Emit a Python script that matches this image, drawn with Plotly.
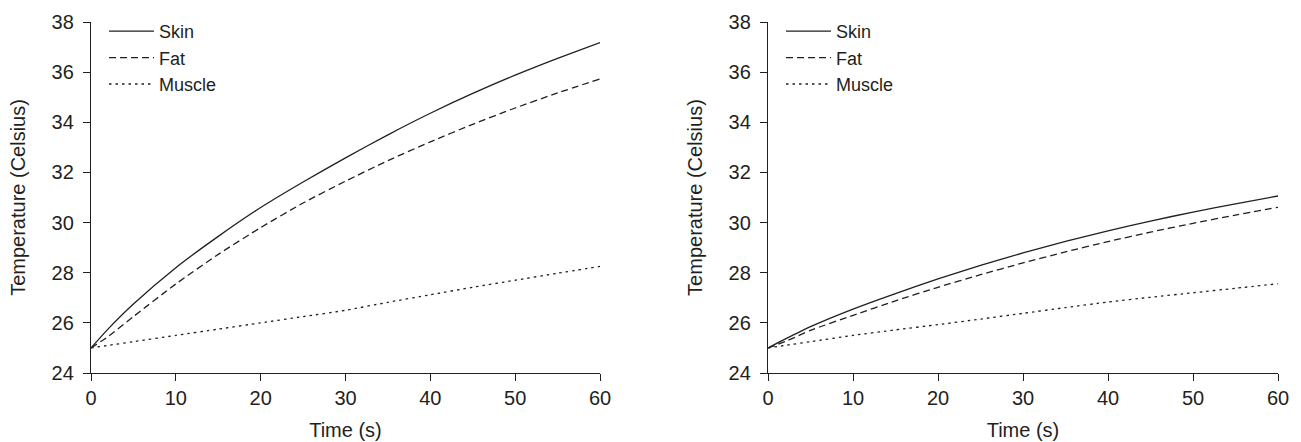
import plotly.graph_objects as go

time_s = [0, 2, 5, 10, 15, 20, 25, 30, 35, 40, 45, 50, 55, 60]
skin_left = [25.0, 25.75, 26.75, 28.2, 29.45, 30.6, 31.62, 32.58, 33.5, 34.36, 35.15, 35.88, 36.55, 37.18]
fat_left = [25.0, 25.45, 26.25, 27.55, 28.73, 29.8, 30.78, 31.65, 32.47, 33.22, 33.92, 34.57, 35.17, 35.73]
muscle_left = [25.0, 25.1, 25.25, 25.5, 25.75, 26.0, 26.25, 26.5, 26.82, 27.12, 27.42, 27.7, 27.98, 28.25]
skin_right = [25.0, 25.35, 25.85, 26.55, 27.17, 27.75, 28.29, 28.79, 29.25, 29.67, 30.06, 30.42, 30.75, 31.06]
fat_right = [25.0, 25.25, 25.7, 26.3, 26.88, 27.42, 27.92, 28.39, 28.83, 29.24, 29.62, 29.97, 30.3, 30.61]
muscle_right = [25.0, 25.1, 25.25, 25.5, 25.72, 25.93, 26.15, 26.38, 26.61, 26.83, 27.02, 27.2, 27.38, 27.56]

series_names = ["Skin", "Fat", "Muscle"]
x_ticks = [0, 10, 20, 30, 40, 50, 60]
y_ticks = [24, 26, 28, 30, 32, 34, 36, 38]

INK = "#231f20"
FONT = "Liberation Sans, Arial, sans-serif"
dashes = ["solid", "7px,4px", "2.5px,4px"]

fig = go.Figure()
panels = [
    ("x", "y", "legend", [skin_left, fat_left, muscle_left]),
    ("x2", "y2", "legend2", [skin_right, fat_right, muscle_right]),
]
for xa, ya, lg, vals in panels:
    for name, v, d in zip(series_names, vals, dashes):
        fig.add_trace(go.Scatter(
            x=time_s, y=v, name=name, mode="lines", xaxis=xa, yaxis=ya, legend=lg,
            line=dict(color=INK, width=1.3, dash=d, shape="spline", smoothing=0.6),
        ))

W, H = 1301, 442
ydom = [1 - 373 / H, 1 - 22 / H]
axis_common = dict(
    showline=True, linecolor=INK, linewidth=1.3, ticks="outside", ticklen=7,
    tickwidth=1.3, tickcolor=INK, showgrid=False, zeroline=False, automargin=False,
    tickfont=dict(family=FONT, size=20, color=INK),
    title_font=dict(family=FONT, size=20, color=INK),
)
legend_common = dict(
    xanchor="left", yanchor="top", y=1 - 13 / H,
    bgcolor="rgba(0,0,0,0)", font=dict(family=FONT, size=18, color=INK),
    itemwidth=45, tracegroupgap=0,
)
fig.update_layout(
    template="none",
    width=W, height=H, margin=dict(l=0, r=0, t=0, b=0),
    paper_bgcolor="white", plot_bgcolor="white",
    font=dict(family=FONT, color=INK),
    xaxis=dict(domain=[91 / W, 600 / W], range=[0, 60], tickvals=x_ticks,
               title=dict(text="Time (s)", standoff=14), anchor="y", **axis_common),
    yaxis=dict(domain=ydom, range=[24, 38], tickvals=y_ticks, ticklabelstandoff=5,
               title=dict(text="Temperature (Celsius)", standoff=20), anchor="x", **axis_common),
    xaxis2=dict(domain=[768 / W, 1278 / W], range=[0, 60], tickvals=x_ticks,
                title=dict(text="Time (s)", standoff=14), anchor="y2", **axis_common),
    yaxis2=dict(domain=ydom, range=[24, 38], tickvals=y_ticks, ticklabelstandoff=5,
                title=dict(text="Temperature (Celsius)", standoff=20), anchor="x2", **axis_common),
    legend=dict(x=104 / W, **legend_common),
    legend2=dict(x=781 / W, **legend_common),
)

fig.write_html("out.html")
